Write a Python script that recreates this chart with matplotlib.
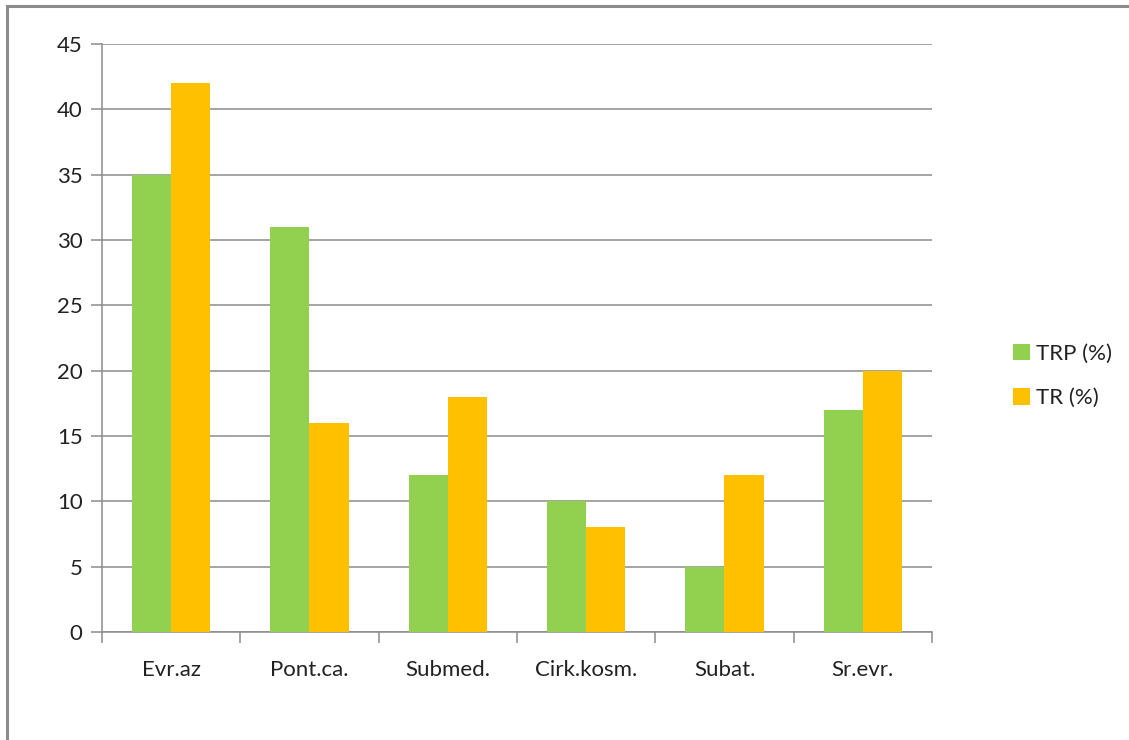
import numpy as np
import matplotlib.pyplot as plt
from matplotlib.patches import Rectangle

categories = ['Evr.az', 'Pont.ca.', 'Submed.', 'Cirk.kosm.', 'Subat.', 'Sr.evr.']
trp = [35, 31, 12, 10, 5, 17]
tr = [42, 16, 18, 8, 12, 20]
series_names = ['TRP (%)', 'TR (%)']

plt.rcParams['font.family'] = ['Lato', 'DejaVu Sans']

fig = plt.figure(figsize=(11.29, 7.40), dpi=100)
ax = fig.add_axes([102 / 1129, 1 - 632 / 740, 830 / 1129, 588 / 740])

# chart border, runs off the right and bottom edges like the original
fig.patches.append(Rectangle((7 / 1129, -0.1), 1.2, 1 - 6 / 740 + 0.1,
                             transform=fig.transFigure, fill=False,
                             edgecolor='#8c8c8c', linewidth=2.2))

x = np.arange(len(categories))
w = 0.282
ax.bar(x - w / 2, trp, w, color='#92D050', label=series_names[0], zorder=3)
ax.bar(x + w / 2, tr, w, color='#FFC000', label=series_names[1], zorder=3)

ax.set_xlim(-0.5, len(categories) - 0.5)
ax.set_ylim(0, 45)
ax.set_yticks(range(0, 46, 5))
ax.yaxis.grid(True, color='#8c8c8c', linewidth=1.1, zorder=0)

ax.set_xticks(np.arange(len(categories) + 1) - 0.5)
ax.set_xticklabels([])
ax.set_xticks(x, minor=True)
ax.set_xticklabels(categories, minor=True)
ax.tick_params(axis='x', which='major', length=8, color='#8c8c8c', width=1.1)
ax.tick_params(axis='x', which='minor', length=0, pad=20, labelsize=16, labelcolor='#222222')
ax.tick_params(axis='y', length=8, color='#8c8c8c', width=1.1, pad=6,
               labelsize=16, labelcolor='#222222')

for s in ['top', 'right']:
    ax.spines[s].set_visible(False)
for s in ['left', 'bottom']:
    ax.spines[s].set_color('#8c8c8c')
    ax.spines[s].set_linewidth(1.1)

fig.legend(loc='center left', bbox_to_anchor=(993 / 1129, 1 - 376 / 740),
           frameon=False, fontsize=16, handlelength=0.75, handleheight=0.75,
           handletextpad=0.3, labelspacing=1.1, labelcolor='#222222')

fig.savefig('out.png', dpi=100)
